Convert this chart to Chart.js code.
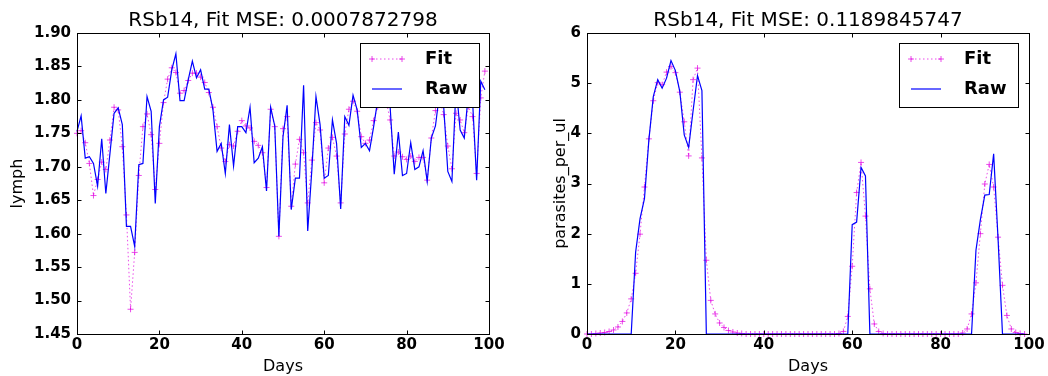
<!DOCTYPE html>
<html>
<head>
<meta charset="utf-8">
<script src="https://cdn.jsdelivr.net/npm/chart.js@4.4.1/dist/chart.umd.min.js"></script>
<style>
  body { margin: 0; background: #fff; }
  .box { position: absolute; top: 0; width: 524px; height: 376px; }
</style>
</head>
<body>
<div class="box" style="left:0"><canvas id="chart-lymph" width="524" height="376"></canvas></div>
<div class="box" style="left:524px"><canvas id="chart-para" width="524" height="376"></canvas></div>
<script>
// Days (x axis)
let days = [0,1,2,3,4,5,6,7,8,9,10,11,12,13,14,15,16,17,18,19,
  20,21,22,23,24,25,26,27,28,29,30,31,32,33,34,35,36,37,38,39,
  40,41,42,43,44,45,46,47,48,49,50,51,52,53,54,55,56,57,58,59,
  60,61,62,63,64,65,66,67,68,69,70,71,72,73,74,75,76,77,78,79,
  80,81,82,83,84,85,86,87,88,89,90,91,92,93,94,95,96,97,98,99];

// lymph - left chart
let lymphFit = [1.750,1.754,1.736,1.705,1.657,1.681,1.707,1.696,1.740,1.789,
  1.785,1.730,1.628,1.487,1.572,1.687,1.760,1.779,1.748,1.666,
  1.735,1.796,1.831,1.848,1.841,1.810,1.814,1.829,1.840,1.840,
  1.834,1.826,1.811,1.789,1.760,1.728,1.708,1.733,1.731,1.753,
  1.769,1.761,1.758,1.738,1.732,1.721,1.669,1.786,1.760,1.596,
  1.757,1.775,1.641,1.704,1.741,1.721,1.646,1.710,1.766,1.755,
  1.676,1.728,1.744,1.716,1.646,1.749,1.786,1.798,1.783,1.745,
  1.735,1.740,1.769,1.790,1.800,1.800,1.770,1.716,1.722,1.715,
  1.711,1.716,1.708,1.714,1.714,1.680,1.743,1.784,1.800,1.778,
  1.731,1.697,1.780,1.770,1.751,1.790,1.775,1.690,1.803,1.843];
let lymphRaw = [1.753,1.776,1.713,1.715,1.705,1.671,1.742,1.660,1.720,1.780,
  1.788,1.763,1.611,1.611,1.581,1.703,1.705,1.805,1.783,1.645,
  1.760,1.800,1.804,1.845,1.869,1.799,1.799,1.830,1.858,1.833,
  1.845,1.816,1.816,1.785,1.723,1.735,1.690,1.763,1.701,1.760,
  1.760,1.751,1.789,1.706,1.713,1.730,1.664,1.789,1.761,1.596,
  1.745,1.792,1.636,1.683,1.683,1.822,1.604,1.695,1.805,1.763,
  1.683,1.687,1.770,1.735,1.637,1.775,1.762,1.807,1.785,1.729,
  1.735,1.724,1.760,1.800,1.815,1.805,1.790,1.689,1.752,1.687,
  1.690,1.736,1.696,1.700,1.724,1.678,1.743,1.761,1.810,1.790,
  1.693,1.678,1.820,1.755,1.743,1.810,1.800,1.680,1.828,1.815];
let lymphTicks = [1.45,1.50,1.55,1.60,1.65,1.70,1.75,1.80,1.85,1.90];

// parasites_per_ul - right chart
let paraFit = [0,0,0.01,0.02,0.03,0.05,0.08,0.14,0.25,0.42,
  0.70,1.21,1.99,2.93,3.89,4.65,5.01,4.97,5.22,5.33,
  5.21,4.82,4.23,3.55,5.07,5.30,3.51,1.47,0.67,0.40,
  0.22,0.13,0.07,0.04,0.02,0.01,0,0,0,0,
  0,0,0,0,0,0,0,0,0,0,
  0,0,0,0,0,0,0,0.01,0.05,0.35,
  1.35,2.82,3.42,2.35,0.90,0.20,0.05,0.01,0,0,
  0,0,0,0,0,0,0,0,0,0,
  0,0,0,0,0,0.02,0.10,0.40,1.02,2.00,
  2.99,3.38,2.93,1.93,0.97,0.37,0.10,0.03,0.01,0];
let paraRaw = [0,0,0,0,0,0,0,0,0,0,
  0,1.63,2.30,2.70,3.87,4.73,5.07,4.90,5.10,5.45,
  5.25,4.83,3.97,3.72,4.45,5.15,4.85,0,0,0,
  0,0,0,0,0,0,0,0,0,0,
  0,0,0,0,0,0,0,0,0,0,
  0,0,0,0,0,0,0,0,0,0,
  2.18,2.23,3.32,3.15,0,0,0,0,0,0,
  0,0,0,0,0,0,0,0,0,0,
  0,0,0,0,0,0,0,0,1.67,2.28,
  2.77,2.78,3.59,1.90,0,0,0,0,0,0];
let paraTicks = [0,1,2,3,4,5,6];
let dayTicks = [0,20,40,60,80,100];

let fitColor = 'rgba(225,0,225,0.7)';
let rawColor = '#0000ff';

Chart.defaults.font.family = "'DejaVu Sans', sans-serif";
Chart.defaults.color = '#000';

// axes frame with inward ticks, like matplotlib
const framePlugin = {
  id: 'frame',
  afterDraw(chart) {
    const {ctx, chartArea: a, scales} = chart;
    const L = Math.round(a.left) + 0.5, R = Math.round(a.right) + 0.5;
    const T = Math.round(a.top) + 0.5, B = Math.round(a.bottom) + 0.5;
    ctx.save();
    ctx.strokeStyle = '#000';
    ctx.lineWidth = 1;
    ctx.beginPath();
    scales.x.ticks.forEach(t => {
      const px = Math.round(scales.x.getPixelForValue(t.value)) + 0.5;
      ctx.moveTo(px, B); ctx.lineTo(px, B - 4);
      ctx.moveTo(px, T); ctx.lineTo(px, T + 4);
    });
    scales.y.ticks.forEach(t => {
      const py = Math.round(scales.y.getPixelForValue(t.value)) + 0.5;
      ctx.moveTo(L, py); ctx.lineTo(L + 4, py);
      ctx.moveTo(R, py); ctx.lineTo(R - 4, py);
    });
    ctx.stroke();
    ctx.strokeRect(L, T, R - L, B - T);
    ctx.restore();
  }
};

// boxed legend drawn over the lines
const boxLegend = {
  id: 'boxLegend',
  afterDraw(chart, args, opts) {
    const ctx = chart.ctx;
    const x = opts.left, y = opts.top;
    ctx.save();
    ctx.fillStyle = '#fff';
    ctx.fillRect(x, y, 119, 64);
    ctx.strokeStyle = '#000';
    ctx.lineWidth = 1;
    ctx.strokeRect(x + 0.5, y + 0.5, 119, 64);
    const s0 = x + 12, s1 = x + 42;
    const r1 = y + 16, r2 = y + 46;
    // Fit sample
    ctx.strokeStyle = fitColor;
    ctx.setLineDash([1.5, 2.5]);
    ctx.beginPath(); ctx.moveTo(s0, r1); ctx.lineTo(s1, r1); ctx.stroke();
    ctx.setLineDash([]);
    ctx.beginPath();
    [s0, s1].forEach(px => {
      ctx.moveTo(px - 3, r1); ctx.lineTo(px + 3, r1);
      ctx.moveTo(px, r1 - 3); ctx.lineTo(px, r1 + 3);
    });
    ctx.stroke();
    // Raw sample
    ctx.strokeStyle = rawColor;
    ctx.lineWidth = 1.2;
    ctx.beginPath(); ctx.moveTo(s0, r2); ctx.lineTo(s1, r2); ctx.stroke();
    ctx.fillStyle = '#000';
    ctx.font = "bold 18px 'DejaVu Sans'";
    ctx.textBaseline = 'middle';
    ctx.fillText('Fit', x + 65, r1);
    ctx.fillText('Raw', x + 65, r2);
    ctx.restore();
  }
};

function makeChart(id, cfg) {
  return new Chart(document.getElementById(id), {
    type: 'line',
    data: {
      labels: days,
      datasets: [{
        label: 'Fit',
        data: cfg.fit,
        borderColor: fitColor,
        borderWidth: 1,
        borderDash: [1.5, 2.5],
        pointStyle: 'cross',
        pointRadius: 3,
        pointBorderWidth: 1,
        pointBorderColor: fitColor,
        pointBackgroundColor: fitColor,
        tension: 0,
        clip: 4,
        order: 1
      }, {
        label: 'Raw',
        data: cfg.raw,
        borderColor: rawColor,
        borderWidth: 1.2,
        pointRadius: 0,
        tension: 0,
        clip: 4,
        order: 0
      }]
    },
    options: {
      responsive: false,
      animation: false,
      events: [],
      layout: { padding: { left: 0, right: cfg.padRight, top: 0, bottom: 0 } },
      plugins: {
        legend: { display: false },
        tooltip: { enabled: false },
        title: {
          display: true,
          text: cfg.title,
          fullSize: false,
          color: '#000',
          font: { size: 20, weight: 'normal' },
          padding: { top: 9, bottom: 0 }
        },
        boxLegend: { left: cfg.legendLeft, top: 43 }
      },
      scales: {
        x: {
          type: 'linear',
          min: 0,
          max: 100,
          afterBuildTicks: s => { s.ticks = dayTicks.map(v => ({ value: v })); },
          ticks: { padding: 2, maxRotation: 0, font: { size: 15, weight: 'bold' }, color: '#000' },
          grid: { display: false, drawTicks: false },
          border: { display: false },
          title: { display: true, text: 'Days', color: '#000', font: { size: 16 }, padding: { top: 0, bottom: 0 } },
          afterFit: s => { s.height = 42; }
        },
        y: {
          min: cfg.yMin,
          max: cfg.yMax,
          afterBuildTicks: s => { s.ticks = cfg.yTicks.map(v => ({ value: v })); },
          ticks: { padding: 6, font: { size: 15, weight: 'bold' }, color: '#000', callback: cfg.fmt },
          grid: { display: false, drawTicks: false },
          border: { display: false },
          title: { display: true, text: cfg.yTitle, color: '#000', font: { size: 16 }, padding: { top: cfg.yTitlePad, bottom: 0 } },
          afterFit: s => { s.width = cfg.yWidth; }
        }
      }
    },
    plugins: [framePlugin, boxLegend]
  });
}

makeChart('chart-lymph', {
  fit: lymphFit, raw: lymphRaw,
  title: 'RSb14, Fit MSE: 0.0007872798',
  yTitle: 'lymph', yMin: 1.45, yMax: 1.90, yTicks: lymphTicks,
  fmt: v => v.toFixed(2),
  yWidth: 77, yTitlePad: 8, padRight: 35, legendLeft: 360
});

makeChart('chart-para', {
  fit: paraFit, raw: paraRaw,
  title: 'RSb14, Fit MSE: 0.1189845747',
  yTitle: 'parasites_per_ul', yMin: 0, yMax: 6, yTicks: paraTicks,
  fmt: v => String(v),
  yWidth: 63, yTitlePad: 27, padRight: 19, legendLeft: 375
});
</script>
</body>
</html>
